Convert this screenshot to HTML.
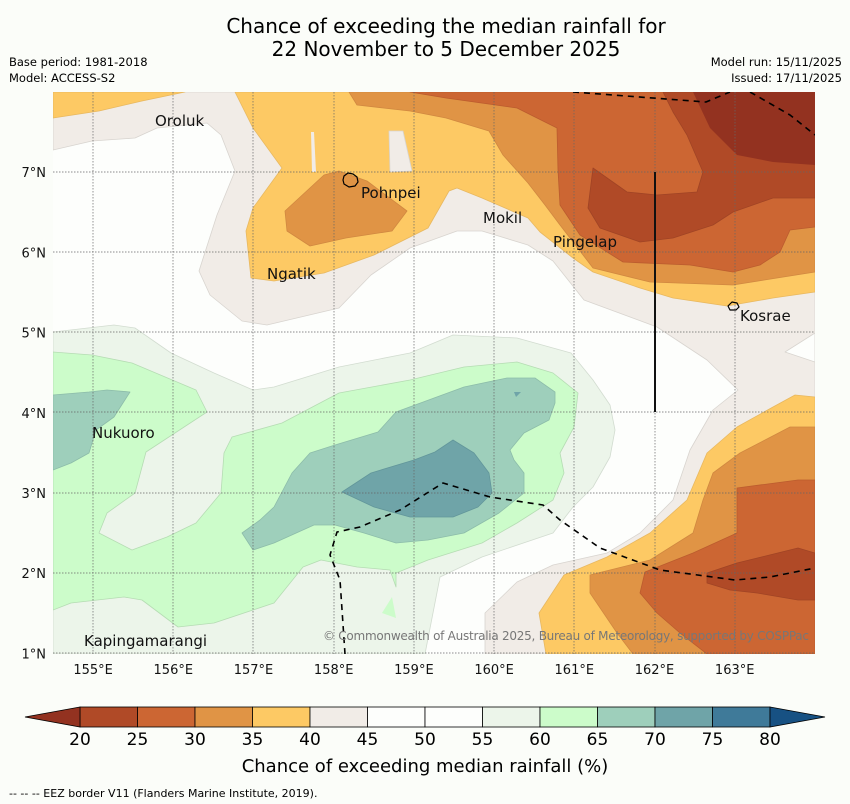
<!DOCTYPE html>
<html><head><meta charset="utf-8"><style>
body{margin:0;background:#fbfdf9;width:850px;height:804px;overflow:hidden;font-family:"DejaVu Sans","Liberation Sans",sans-serif}
svg{display:block;font-family:"DejaVu Sans","Liberation Sans",sans-serif}
</style></head><body>
<svg width="850" height="804" viewBox="0 0 850 804">
<text x="446" y="33" text-anchor="middle" font-size="20">Chance of exceeding the median rainfall for</text>
<text x="446" y="56" text-anchor="middle" font-size="20">22 November to 5 December 2025</text>
<text x="9" y="66" font-size="11.5">Base period: 1981-2018</text>
<text x="9" y="82" font-size="11.5">Model: ACCESS-S2</text>
<text x="842" y="66" font-size="11.5" text-anchor="end">Model run: 15/11/2025</text>
<text x="842" y="82" font-size="11.5" text-anchor="end">Issued: 17/11/2025</text>
<defs><clipPath id="mc"><rect x="53" y="92" width="762" height="562"/></clipPath></defs>
<g clip-path="url(#mc)" stroke-width="0.8" stroke-linejoin="round">
<rect x="53" y="92" width="762" height="562" fill="#fdfefc"/>
<polygon fill="#f1ece7" stroke="#d8d4cf" points="53,92 53,150 92,141 135,138 157,128 207,123 221,135 235,171 217,215 199,271 210,295 242,321 267,325 339,308 371,275 410,248 457,231 482,231 528,245 553,261 584,300 657,327 707,360 738,390 713,410 690,450 673,500 640,533 607,553 553,565 517,582 485,613 485,654 815,654 815,92"/>
<polygon fill="#fdfefc" stroke="#d8d4cf" points="785,352 815,333 815,362"/>
<polygon fill="#fdc964" stroke="#e8b860" points="53,92 185,92 142,101 99,111 53,118"/>
<polygon fill="#fdc964" stroke="#e8b860" points="235,92 253,128 282,168 253,208 246,231 251,278 274,281 324,273 374,255 428,228 449,191 457,188 482,198 528,218 540,232 573,258 593,272 640,288 673,298 727,306 773,298 815,292 815,92"/>
<polygon fill="#fdc964" stroke="#e8b860" points="815,397 795,395 773,407 737,427 707,453 687,500 650,533 607,557 564,575 539,613 546,654 815,654"/>
<polygon fill="#f1ece7" stroke="#d8d4cf" points="389,131 403,131 412,171 390,172"/>
<polygon fill="#f1ece7" points="311,132 314,132 316,172 312,172"/>
<polygon fill="#e09445" stroke="#d08840" points="285,211 324,175 339,171 367,181 407,211 392,231 346,238 310,246 287,231"/>
<polygon fill="#e09445" stroke="#d08840" points="349,92 357,105 410,111 446,118 489,131 503,155 528,183 545,205 560,225 593,268 650,282 733,285 815,272 815,92"/>
<polygon fill="#e09445" stroke="#d08840" points="815,427 790,427 740,453 713,473 703,500 693,533 650,560 590,575 590,593 617,633 633,654 815,654"/>
<polygon fill="#cc6633" stroke="#bb5c2e" points="410,92 446,98 517,108 557,128 558,170 560,205 580,235 623,262 690,265 733,272 760,265 780,252 790,230 815,227 815,92"/>
<polygon fill="#cc6633" stroke="#bb5c2e" points="815,480 798,480 737,488 737,533 693,553 645,572 640,593 657,613 680,633 707,654 815,654"/>
<polygon fill="#b04a27" stroke="#a04425" points="663,92 673,112 687,135 703,172 697,192 657,195 627,192 593,168 588,208 600,228 640,242 673,238 713,225 733,212 773,198 815,198 815,92"/>
<polygon fill="#b04a27" stroke="#a04425" points="707,573 737,563 798,548 815,553 815,600 798,600 757,593 730,590 707,583"/>
<polygon fill="#933220" points="693,92 710,128 737,155 773,162 815,165 815,92"/>
<polygon fill="#ecf5ea" stroke="#d2dcd0" points="53,332 114,325 135,328 171,353 214,373 253,390 274,387 339,367 410,353 453,335 517,338 571,353 593,380 610,405 615,430 610,457 593,487 573,507 553,533 482,557 440,577 425,654 53,654"/>
<polygon fill="#ccfcca" stroke="#b5dcb3" points="53,352 92,355 132,363 196,390 207,412 146,452 135,493 107,513 99,533 132,550 167,537 196,523 221,493 224,453 232,437 282,423 339,393 410,380 464,367 517,362 553,373 578,393 574,427 560,453 564,473 553,500 517,523 482,543 428,560 396,573 396,587 390,570 357,567 321,560 303,567 274,603 214,623 178,627 142,600 124,597 71,603 53,610"/>
<polygon fill="#ccfcca" points="382,613 392,597 396,618"/>
<polygon fill="#9ecfbb" stroke="#8cbca9" points="53,395 89,392 107,390 130,392 114,417 96,430 89,453 71,463 53,470"/>
<polygon fill="#9ecfbb" stroke="#8cbca9" points="242,533 253,550 274,543 314,525 335,525 364,533 396,543 428,540 464,533 499,513 524,493 524,473 514,460 510,450 524,433 549,420 555,403 555,392 535,378 507,378 464,387 396,412 378,432 335,445 310,453 292,473 274,507 260,520"/>
<polygon fill="#6fa4a8" stroke="#62969a" points="342,492 371,473 414,460 435,452 453,440 474,453 489,473 492,493 478,507 453,517 410,517 374,507"/>
<polygon fill="#6fa4a8" points="514,392 521,392 516,397"/>
<g stroke="#666" stroke-width="0.7" stroke-dasharray="1.5,1.5">
<line x1="93" y1="92" x2="93" y2="654"/><line x1="173" y1="92" x2="173" y2="654"/><line x1="253" y1="92" x2="253" y2="654"/><line x1="334" y1="92" x2="334" y2="654"/><line x1="414" y1="92" x2="414" y2="654"/><line x1="494" y1="92" x2="494" y2="654"/><line x1="574" y1="92" x2="574" y2="654"/><line x1="655" y1="92" x2="655" y2="654"/><line x1="735" y1="92" x2="735" y2="654"/>
<line x1="53" y1="172" x2="815" y2="172"/><line x1="53" y1="252" x2="815" y2="252"/><line x1="53" y1="332" x2="815" y2="332"/><line x1="53" y1="412" x2="815" y2="412"/><line x1="53" y1="493" x2="815" y2="493"/><line x1="53" y1="573" x2="815" y2="573"/><line x1="53" y1="653" x2="815" y2="653"/>
</g>
<line x1="655" y1="172" x2="655" y2="412" stroke="#111" stroke-width="2"/>
<g fill="none" stroke="#000" stroke-width="1.6" stroke-dasharray="6,5">
<polyline points="573,92 706,102 730,92"/>
<polyline points="750,92 790,115 815,135"/>
<polyline points="345,654 340,580 330,555 337,532 360,527 400,510 443,483 490,497 543,505 560,520 600,548 660,570 735,580 770,577 815,568"/>
</g>
<path d="M344,176 l4,-3 5,1 4,3 1,5 -3,4 -6,1 -5,-3 -1,-4z" fill="none" stroke="#000" stroke-width="1.2"/>
<path d="M728,306 l4,-4 5,1 2,4 -3,3 -6,0z" fill="none" stroke="#000" stroke-width="1.2"/>
<g font-size="15" fill="#111">
<text x="155" y="126">Oroluk</text>
<text x="361" y="198">Pohnpei</text>
<text x="483" y="223">Mokil</text>
<text x="553" y="247">Pingelap</text>
<text x="267" y="279">Ngatik</text>
<text x="740" y="321">Kosrae</text>
<text x="92" y="438">Nukuoro</text>
<text x="84" y="646">Kapingamarangi</text>
</g>
<text x="809" y="640" font-size="12" fill="#777" text-anchor="end" textLength="486">© Commonwealth of Australia 2025, Bureau of Meteorology, supported by COSPPac</text>
</g>
<g id="axes" font-size="13" fill="#111"></g>
<g id="cbar"></g>
<text x="425" y="772" font-size="18" text-anchor="middle">Chance of exceeding median rainfall (%)</text>
<text x="9" y="797" font-size="11">--  --  -- EEZ border V11 (Flanders Marine Institute, 2019).</text>
</svg>
<script>
const lonTicks=[155,156,157,158,159,160,161,162,163];
const latTicks=[1,2,3,4,5,6,7];
const levels=[20,25,30,35,40,45,50,55,60,65,70,75,80];
const bandColors=["#b04a27","#cc6633","#e09445","#fdc964","#f1ece7","#fdfefc","#fdfefc","#ecf5ea","#ccfcca","#9ecfbb","#6fa4a8","#3f7a99"];
const lowColor="#933220", highColor="#175183";
const NS="http://www.w3.org/2000/svg";
const xLon=l=>53+(l-154.5)*80.2;
const yLat=l=>92+(8-l)*80.2;
const xC=v=>80+(v-20)*(690/60);
function mk(t,a,p){const e=document.createElementNS(NS,t);for(const k in a)e.setAttribute(k,a[k]);p.appendChild(e);return e;}
const ax=document.getElementById('axes');
lonTicks.forEach(l=>{const t=mk('text',{x:xLon(l),y:674,'text-anchor':'middle'},ax);t.textContent=l+'°E';

});
latTicks.forEach(l=>{const t=mk('text',{x:46,y:yLat(l)+5,'text-anchor':'end'},ax);t.textContent=l+'°N';

});
const cb=document.getElementById('cbar');
bandColors.forEach((c,i)=>{const r=mk('rect',{x:xC(levels[i]),y:707,width:xC(levels[i+1])-xC(levels[i]),height:20,fill:c,stroke:'#000','stroke-width':0.8},cb);

});
const lt=mk('polygon',{points:`${xC(levels[0])},707 25,717 ${xC(levels[0])},727`,fill:lowColor,stroke:'#000','stroke-width':0.8},cb);


const rt=mk('polygon',{points:`${xC(levels[levels.length-1])},707 825,717 ${xC(levels[levels.length-1])},727`,fill:highColor,stroke:'#000','stroke-width':0.8},cb);


levels.forEach(v=>{const t=mk('text',{x:xC(v),y:745,'text-anchor':'middle','font-size':17},cb);t.textContent=v;

});
</script>
</body></html>
